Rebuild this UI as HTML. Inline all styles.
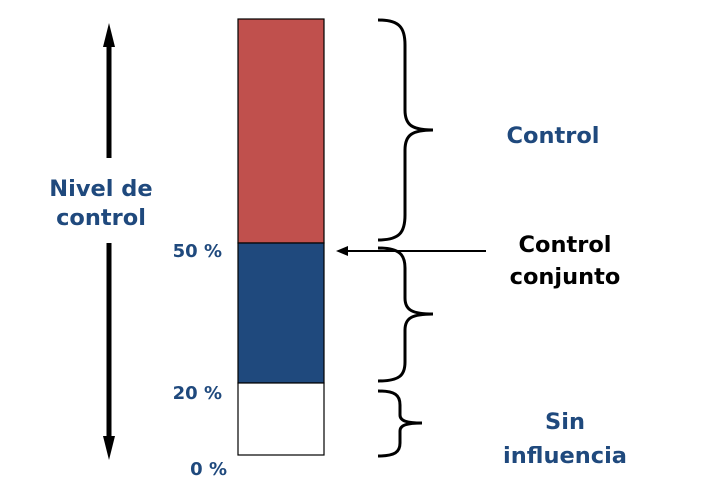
<!DOCTYPE html>
<html><head><style>body{margin:0;background:#fff}</style></head><body>
<svg width="725" height="494" xmlns="http://www.w3.org/2000/svg" font-family="DejaVu Sans, sans-serif" font-weight="bold">
<rect x="238" y="19" width="86" height="224" fill="#c0504d" stroke="#000" stroke-width="1.2"/>
<rect x="238" y="243" width="86" height="140" fill="#1f497d" stroke="#000" stroke-width="1.2"/>
<rect x="238" y="383" width="86" height="72" fill="#fff" stroke="#000" stroke-width="1.2"/>
<line x1="109" y1="40" x2="109" y2="158" stroke="#000" stroke-width="5"/>
<polygon points="109,23 103,47 115,47" fill="#000"/>
<line x1="109" y1="243" x2="109" y2="442" stroke="#000" stroke-width="5"/>
<polygon points="109,460 103,436 115,436" fill="#000"/>
<g fill="none" stroke="#000" stroke-width="3">
<path d="M378,20 C400,20 405,28 405,45 L405,110 C405,125 412,130 433,130 C412,130 405,135 405,150 L405,215 C405,232 400,240 378,240"/>
<path d="M378,248 C400,248 405,255 405,268 L405,298 C405,310 412,314 433,314 C412,314 405,318 405,330 L405,362 C405,375 400,381 378,381"/>
<path d="M378,391 C395,391 400,395 400,405 L400,415 C400,421 407,423 422,423 C407,423 400,425 400,431 L400,443 C400,452 395,456 378,456"/>
</g>
<line x1="486" y1="251" x2="345" y2="251" stroke="#000" stroke-width="2"/>
<polygon points="336,251 348,246 348,256" fill="#000"/>
<g fill="#1f497d" font-size="22.5" text-anchor="middle">
<text x="101" y="196">Nivel de</text>
<text x="101" y="225">control</text>
<text x="553" y="143">Control</text>
<text x="565" y="429">Sin</text>
<text x="565" y="463">influencia</text>
</g>
<g fill="#000" font-size="22.5" text-anchor="middle">
<text x="565" y="252">Control</text>
<text x="565" y="284">conjunto</text>
</g>
<g fill="#1f497d" font-size="18" text-anchor="end">
<text x="222" y="257">50 %</text>
<text x="222" y="399">20 %</text>
<text x="227" y="475">0 %</text>
</g>
</svg>
</body></html>
